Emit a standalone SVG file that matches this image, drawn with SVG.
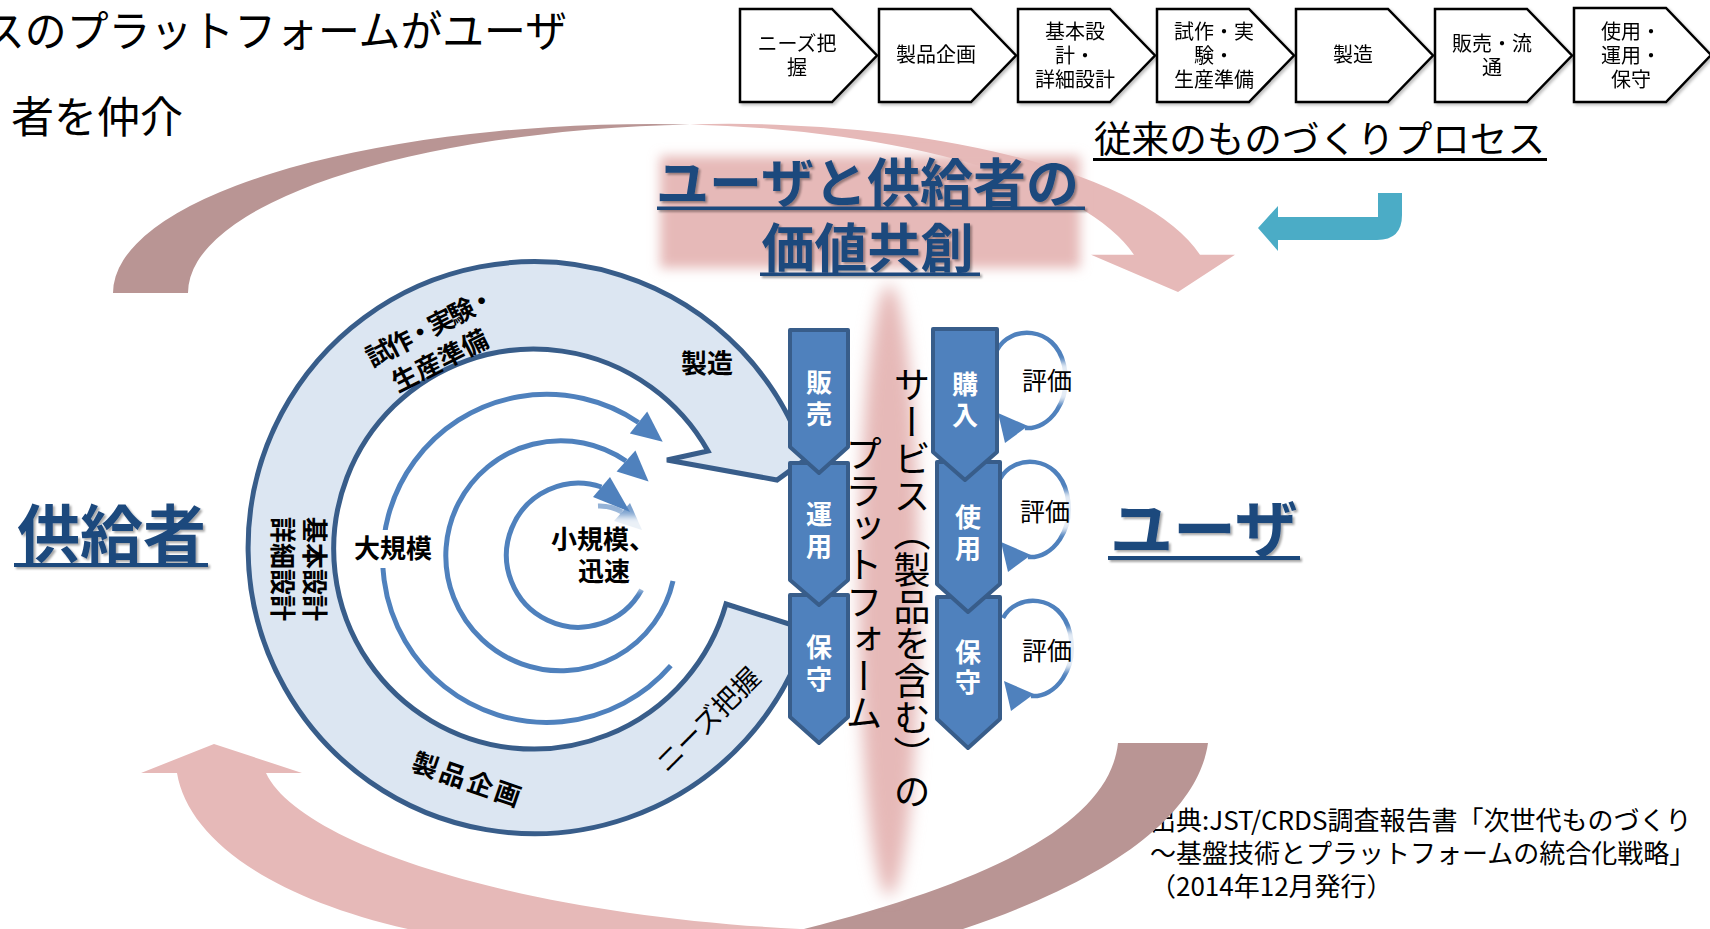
<svg xmlns="http://www.w3.org/2000/svg" width="1710" height="929" viewBox="0 0 1710 929">
<defs>
<style>
text{font-family:"Noto Sans CJK JP","Noto Sans CJK SC",sans-serif;}
.proc{fill:#fff;stroke:#000;stroke-width:2.5;stroke-linejoin:miter}
.pt{font-size:20px;fill:#000;text-anchor:middle}
.rt{font-size:26px;font-weight:700;fill:#000}
.col{fill:#4F81BD;stroke:#385D8A;stroke-width:4;stroke-linejoin:round}
.ct{font-size:26px;font-weight:700;fill:#fff;text-anchor:middle}
.arc{fill:none;stroke:#4F81BD;stroke-width:5}
.ah{fill:#4F81BD}
.loop{fill:none;stroke:#4F81BD;stroke-width:4.5}
.ev{font-size:25px;fill:#000}
.title{fill:#1F497D;font-weight:700}
.ul{fill:#1F497D}
.light{fill:#E6B9B8}
.dark{fill:#B99594}
.cite{font-size:26px;fill:#000}
</style>
<filter id="blur8" x="-100%" y="-20%" width="300%" height="140%"><feGaussianBlur stdDeviation="8"/></filter>
<filter id="blur6" x="-20%" y="-40%" width="140%" height="180%"><feGaussianBlur stdDeviation="6"/></filter>
<filter id="blur3" x="-30%" y="-30%" width="160%" height="160%"><feGaussianBlur stdDeviation="3"/></filter>
<filter id="shadow" x="-10%" y="-20%" width="130%" height="150%"><feDropShadow dx="2" dy="2" stdDeviation="1.2" flood-color="#000" flood-opacity="0.35"/></filter>
<filter id="bshadow" x="-10%" y="-10%" width="130%" height="130%"><feDropShadow dx="2" dy="2" stdDeviation="1.5" flood-color="#000" flood-opacity="0.25"/></filter>
</defs>

<g id="heading">
<text x="-17" y="47" font-size="43" textLength="584" lengthAdjust="spacingAndGlyphs">スのプラットフォームがユーザ</text>
<text x="11" y="133" font-size="43">者を仲介</text>
</g>

<g id="citation">
<text class="cite" x="1150" y="830">出典:JST/CRDS調査報告書「次世代ものづくり</text>
<text class="cite" x="1150" y="863">～基盤技術とプラットフォームの統合化戦略」</text>
<text class="cite" x="1150" y="896">（2014年12月発行）</text>
</g>

<g id="connectors">
<g id="upper-arrow">
<path class="dark" d="M113,293 A541,169 0 0,1 654,124 L690,124.4 A541,169 0 0,0 188,293 Z"/>
<path class="light" d="M690,124.4 A483.6,169 0 0,1 1200,254.7 L1235,254.7 L1178,292 L1091,254.7 L1134,254.7 A493,169 0 0,0 690,124.4 Z"/>
</g>
<g id="lower-arrow">
<path class="light" d="M141,773 L214,744 L302,773 L266,773 C300,845 520,915 800,929 L800,975 L520,975 L500,945 C300,920 190,850 177,773 Z"/>
<path class="dark" d="M1118,743 L1208,743 C1200,800 1140,870 960,930 L960,975 L780,975 L800,930 C1000,880 1110,820 1118,743 Z"/>
</g>
<path id="teal-arrow" fill="#4BACC6" d="M1402,193 V215 Q1402,240 1377,240 H1278 V251 L1258,228 L1278,206 V217 H1378 V193 Z"/>
<g id="cycle-arcs">
<path class="arc" d="M670.8,665.6 A164,164 0 1,1 638.5,422.5"/>
<polygon class="ah" points="662.7,441.7 647.2,411.5 629.8,433.5"/>
<path class="arc" d="M673,581 A115,115 0 1,1 626,461"/>
<polygon class="ah" points="648.6,481.5 635.4,450.6 616.6,471.4"/>
<path class="arc" d="M641.6,589.8 A72,72 0 1,1 601.5,487"/>
<polygon class="ah" points="630,512 610,477 593,497"/>
<path class="arc" d="M598,506 A44,44 0 0,1 622,512" opacity="0.6"/>
<polygon class="ah" points="642,530 630,503 614,521" opacity="0.75"/>
</g>
<g id="eval-loops">
<g id="loop1">
<path class="loop" d="M997,350 C1010,325 1055,325 1064,365 C1072,400 1050,430 1025,428"/>
<polygon class="ah" points="998,413 1028,426 1005,443"/>
</g>
<g id="loop2" transform="translate(3,129)">
<path class="loop" d="M997,350 C1010,325 1055,325 1064,365 C1072,400 1050,430 1025,428"/>
<polygon class="ah" points="998,413 1028,426 1005,443"/>
</g>
<g id="loop3" transform="translate(6,268)">
<path class="loop" d="M997,350 C1010,325 1055,325 1064,365 C1072,400 1050,430 1025,428"/>
<polygon class="ah" points="998,413 1028,426 1005,443"/>
</g>
</g>
</g>

<g id="cocreation-glow">
<rect x="660" y="156" width="420" height="112" fill="#E6B9B8" filter="url(#blur6)"/>
</g>
<g id="platform-band">
<ellipse cx="889" cy="590" rx="30" ry="305" fill="#E6B9B8" filter="url(#blur8)"/>
<text x="912" y="588" font-size="37" text-anchor="middle" style="writing-mode:vertical-rl">サービス（製品を含む）の</text>
<text x="864" y="583" font-size="37" text-anchor="middle" style="writing-mode:vertical-rl">プラットフォーム</text>
</g>

<g id="process-ring">
<path d="M726,604 L808,630 A286,286 0 1,1 806,459 L777,480 L667,460 L708,451 A200,200 0 1,0 726,604 Z" fill="#DCE6F2" stroke="#385D8A" stroke-width="5" stroke-linejoin="miter"/>
<text class="rt" transform="translate(431,328) rotate(-27)" text-anchor="middle" y="8.5" font-size="25" textLength="141" lengthAdjust="spacing">試作・実験・</text>
<text class="rt" transform="translate(440,361) rotate(-27)" text-anchor="middle" y="9">生産準備</text>
<text class="rt" x="681" y="373">製造</text>
<g transform="translate(298,569) rotate(90)">
<text class="rt" x="0" y="-7" text-anchor="middle">基本設計</text>
<text class="rt" x="0" y="25" text-anchor="middle">詳細設計</text>
</g>
<text class="rt" transform="translate(468,780) rotate(19)" text-anchor="middle" y="9.5" font-size="27" letter-spacing="3">製品企画</text>
<text transform="translate(708,720) rotate(-45)" text-anchor="middle" y="9.5" font-size="27" fill="#000">ニーズ把握</text>
</g>

<g id="scale-large">
<rect x="350" y="530" width="90" height="38" fill="#fff"/>
<text class="rt" x="354" y="558" font-size="27">大規模</text>
</g>
<g id="scale-small">
<rect x="549" y="516" width="108" height="74" fill="#fff" opacity="0.85" filter="url(#blur3)"/>
<text class="rt" x="603" y="549" font-size="25" text-anchor="middle">小規模、</text>
<text class="rt" x="604" y="581" text-anchor="middle">迅速</text>
</g>

<g id="supplier-side">
<g id="node-hoshu-s"><path class="col" d="M790,595 H848 V717 L819,743 L790,717 Z"/><text class="ct" x="819" y="657">保</text><text class="ct" x="819" y="689">守</text></g>
<g id="node-unyo"><path class="col" d="M790,463 H848 V580 L819,605 L790,580 Z"/><text class="ct" x="819" y="524">運</text><text class="ct" x="819" y="556">用</text></g>
<g id="node-hanbai"><path class="col" d="M790,330 H848 V447 L819,473 L790,447 Z"/><text class="ct" x="819" y="392">販</text><text class="ct" x="819" y="424">売</text></g>
</g>
<g id="user-side">
<g id="node-hoshu-u"><path class="col" d="M937,597 H1000 V719 L968,748 L937,719 Z"/><text class="ct" x="968" y="662">保</text><text class="ct" x="968" y="692">守</text></g>
<g id="node-shiyo"><path class="col" d="M937,462 H1000 V584 L968,612 L937,584 Z"/><text class="ct" x="968" y="527">使</text><text class="ct" x="968" y="558">用</text></g>
<g id="node-konyu"><path class="col" d="M933,329 H997 V452 L965,480 L933,452 Z"/><text class="ct" x="965" y="394">購</text><text class="ct" x="965" y="425">入</text></g>
</g>

<g id="eval-labels">
<g id="eval1"><rect x="1012" y="362" width="70" height="40" fill="#fff" opacity="0.85" filter="url(#blur3)"/><text class="ev" x="1022" y="390">評価</text></g>
<g id="eval2"><rect x="1015" y="492" width="70" height="40" fill="#fff" opacity="0.85" filter="url(#blur3)"/><text class="ev" x="1020" y="521">評価</text></g>
<g id="eval3"><rect x="1018" y="630" width="70" height="40" fill="#fff" opacity="0.85" filter="url(#blur3)"/><text class="ev" x="1022" y="660">評価</text></g>
</g>

<g id="process-chain" filter="url(#bshadow)">
<g id="p1"><path class="proc" d="M740,9 H832 L877,55.5 L832,102 H740 Z"/><text class="pt" x="797" y="51">ニーズ把</text><text class="pt" x="797" y="75">握</text></g>
<g id="p2"><path class="proc" d="M879,9 H971 L1016,55.5 L971,102 H879 Z"/><text class="pt" x="936" y="62">製品企画</text></g>
<g id="p3"><path class="proc" d="M1018,9 H1110 L1155,55.5 L1110,102 H1018 Z"/><text class="pt" x="1075" y="39">基本設</text><text class="pt" x="1075" y="63">計・</text><text class="pt" x="1075" y="87">詳細設計</text></g>
<g id="p4"><path class="proc" d="M1157,9 H1249 L1294,55.5 L1249,102 H1157 Z"/><text class="pt" x="1214" y="39">試作・実</text><text class="pt" x="1214" y="63">験・</text><text class="pt" x="1214" y="87">生産準備</text></g>
<g id="p5"><path class="proc" d="M1296,9 H1388 L1433,55.5 L1388,102 H1296 Z"/><text class="pt" x="1353" y="62">製造</text></g>
<g id="p6"><path class="proc" d="M1435,9 H1527 L1572,55.5 L1527,102 H1435 Z"/><text class="pt" x="1492" y="51">販売・流</text><text class="pt" x="1492" y="75">通</text></g>
<g id="p7"><path class="proc" d="M1574,8 H1666 L1711,55 L1666,102 H1574 Z"/><text class="pt" x="1631" y="39">使用・</text><text class="pt" x="1631" y="63">運用・</text><text class="pt" x="1631" y="87">保守</text></g>
</g>
<g id="process-caption">
<text x="1094" y="153" font-size="37" textLength="451" lengthAdjust="spacingAndGlyphs" fill="#000">従来のものづくりプロセス</text>
<rect x="1093" y="158" width="454" height="3" fill="#000"/>
</g>

<g id="cocreation-title" filter="url(#shadow)">
<text class="title" x="867.5" y="203" font-size="53" text-anchor="middle">ユーザと供給者の</text>
<rect class="ul" x="657" y="206.5" width="428" height="3.5"/>
<text class="title" x="867.5" y="268" font-size="53" text-anchor="middle">価値共創</text>
<rect class="ul" x="760" y="272.5" width="220" height="3.5"/>
</g>

<g id="supplier" filter="url(#shadow)">
<text class="title" x="17" y="557" font-size="63">供給者</text>
<rect class="ul" x="14" y="563" width="194" height="4"/>
</g>
<g id="user" filter="url(#shadow)">
<text class="title" x="1110" y="552" font-size="63">ユーザ</text>
<rect class="ul" x="1108" y="556" width="192" height="4"/>
</g>
</svg>
